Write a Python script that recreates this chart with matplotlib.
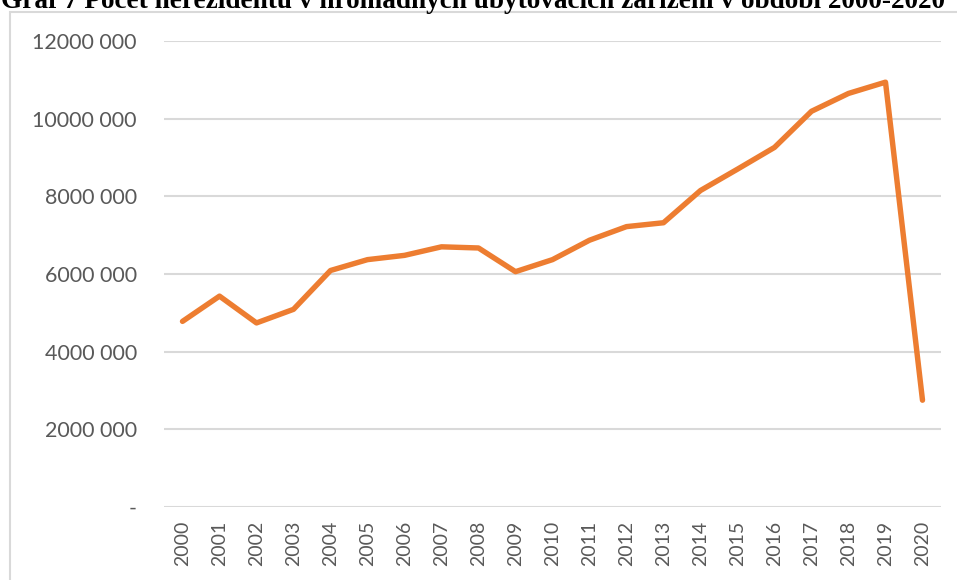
import matplotlib.pyplot as plt
from matplotlib.patches import Rectangle

# data
years = [str(y) for y in range(2000, 2021)]
guests = [4.78, 5.43, 4.74, 5.09, 6.09, 6.37, 6.48, 6.70, 6.67, 6.06, 6.37,
          6.87, 7.22, 7.32, 8.15, 8.70, 9.26, 10.19, 10.65, 10.94, 2.75]
guests = [v * 1e6 for v in guests]

y_ticks = [0, 2e6, 4e6, 6e6, 8e6, 10e6, 12e6]
y_labels = ["-", "2000 000", "4000 000", "6000 000", "8000 000", "10000 000", "12000 000"]

title = "Graf 7 Počet nerezidentů v hromadných ubytovacích zařízení v období 2000-2020"

W, H = 957, 580
fig = plt.figure(figsize=(W / 100, H / 100), dpi=100)

# chart area frame (runs off the right and bottom edges, as in the source)
fig.patches.append(Rectangle((10 / W, -10 / H), 960 / W, (H - 2) / H, transform=fig.transFigure,
                             fill=False, edgecolor="#D9D9D9", linewidth=1.5))

fig.text(1 / W, 1 - 8 / H, title, ha="left", va="baseline",
         fontfamily="Liberation Serif", fontweight="bold", fontsize=19.6)

ax = fig.add_axes([164 / W, 1 - 507 / H, 777 / W, 466 / H])
x = list(range(len(years)))
ax.plot(x, guests, color="#ED7D31", linewidth=3.9, solid_joinstyle="round",
        solid_capstyle="round", zorder=3)

ax.set_xlim(-0.5, len(years) - 0.5)
ax.set_ylim(0, 12e6)
ax.set_yticks(y_ticks)
ax.set_yticklabels(y_labels, fontfamily="Lato", fontsize=15.5, color="#595959")
ax.set_xticks(x)
ax.set_xticklabels(years, rotation=90, fontfamily="Lato", fontsize=14, color="#595959")
ax.tick_params(length=0)
ax.tick_params(axis="y", pad=19.5)
ax.tick_params(axis="x", pad=10)
ax.grid(axis="y", color="#D9D9D9", linewidth=1.5)
ax.set_axisbelow(True)
for s in ax.spines.values():
    s.set_visible(False)

fig.savefig("out.png", dpi=100)
